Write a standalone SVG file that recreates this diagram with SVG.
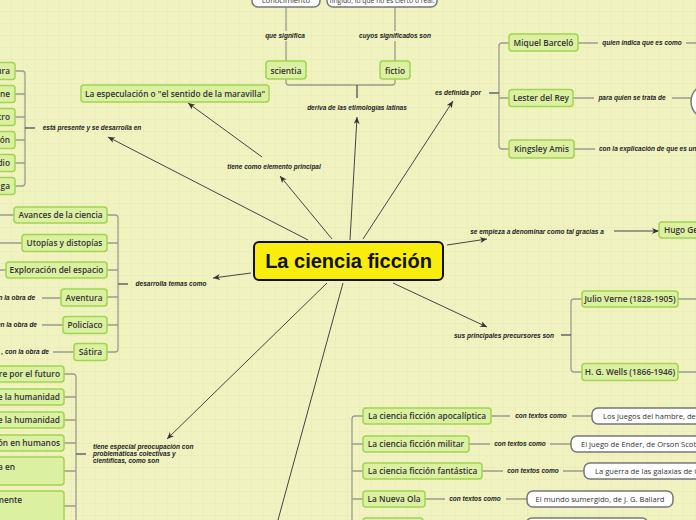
<svg xmlns="http://www.w3.org/2000/svg" width="696" height="520" viewBox="0 0 696 520">
<defs>
<pattern id="grid" width="12" height="12" patternUnits="userSpaceOnUse">
<path d="M12,0 V12 M0,12 H12" fill="none" stroke="#e2e6ad" stroke-width="0.7"/>
</pattern>
<marker id="arr" markerWidth="8" markerHeight="8" refX="7" refY="3" orient="auto" markerUnits="userSpaceOnUse">
<path d="M0,0 L7,3 L0,6 L2,3 z" fill="#333"/>
</marker>
<style>
.g rect{fill:#dcf0a2;stroke:#a2d352;stroke-width:1.5}
.w rect{fill:#fff;stroke:#777;stroke-width:1.5}
.g text{font-family:"Open Sans","DejaVu Sans",sans-serif;font-size:8.3px;font-weight:600;fill:#333}
.w text{font-family:"Open Sans","DejaVu Sans",sans-serif;font-size:7.6px;fill:#333}
.lab{font-family:"Liberation Sans",Arial,sans-serif;font-size:6.5px;font-weight:bold;font-style:italic;fill:#222}
.tree{fill:none;stroke:#9c9c8c;stroke-width:1.3}
.stub{fill:none;stroke:#666;stroke-width:1.5}
.arrow{fill:none;stroke:#444;stroke-width:1;marker-end:url(#arr)}
.c{text-anchor:middle}
.e{text-anchor:end}
</style>
</defs>
<rect width="696" height="520" fill="#f0f3c0"/>
<rect width="696" height="520" fill="url(#grid)"/>

<g id="connectors">
<path class="arrow" d="M350,240 L357,117"/>
<path class="arrow" d="M332,239 L280,176"/>
<path class="arrow" d="M262,157 L188,103"/>
<path class="arrow" d="M308,240 L108,137"/>
<path class="arrow" d="M251,273 L213,278"/>
<path class="arrow" d="M327,283 L167,439"/>
<path class="arrow" d="M363,239 L453,101"/>
<path class="arrow" d="M447,245 L487,239"/>
<path class="arrow" d="M614,231 L659,231"/>
<path class="arrow" d="M393,283 L487,327"/>
<path fill="none" stroke="#444" stroke-width="1" d="M343,283 L278,520"/>
<path class="tree" d="M286,7 V31 M286,41 V61 M395,7 V31 M395,41 V61"/>
<path class="tree" d="M286,79 V82 Q286,85 289,85 H392 Q395,85 395,82 V79"/>
<path class="stub" d="M357,85 V98"/>
<path class="tree" d="M15,71 H22 Q25,71 25,74 V183 Q25,186 22,186 H15 M15,94 H25 M15,117 H25 M15,140 H25 M15,163 H25"/>
<path class="stub" d="M35,128 H25"/>
<path class="tree" d="M107,215 H115 Q118,215 118,218 V349 Q118,352 115,352 H107 M107,243 H118 M107,270 H118 M107,297 H118 M107,325 H118"/>
<path class="stub" d="M128,284 H118"/>
<path class="tree" d="M0,215 H14 M0,243 H22 M0,270 H6 M42,298 H61 M42,325 H63 M53,352 H74"/>
<path class="tree" d="M64,374 H73 Q76,374 76,377 V520 M64,397 H76 M64,420 H76 M64,443 H76 M64,471 H76 M64,506 H76"/>
<path class="stub" d="M86,454 H76"/>
<path class="tree" d="M509,43 H502 Q499,43 499,46 V146 Q499,149 502,149 H509 M499,98 H509"/>
<path class="stub" d="M489,93 H499"/>
<path class="tree" d="M578,43 H598 M686,43 H696 M573,98 H594 M672,98 H691 M574,149 H595"/>
<path class="tree" d="M582,299 H574 Q571,299 571,302 V369 Q571,372 574,372 H582"/>
<path class="stub" d="M561,335 H571"/>
<path class="tree" d="M678,299 H696 M678,372 H696"/>
<path class="tree" d="M363,416 H355 Q352,416 352,419 V520 M352,444 H363 M352,471 H363 M352,499 H363 M352,526 H363"/>
<path class="tree" d="M491,416 H510 M572,416 H592 M469,444 H490 M550,444 H571 M482,471 H503 M563,471 H584 M425,499 H445 M506,499 H527"/>
</g>

<g id="labels">
<text class="lab c" x="285" y="38">que significa</text>
<text class="lab c" x="395" y="38">cuyos significados son</text>
<text class="lab c" x="357" y="110">deriva de las etimologías latinas</text>
<text class="lab c" x="274" y="169">tiene como elemento principal</text>
<text class="lab c" x="92" y="130">está presente y se desarrolla en</text>
<text class="lab c" x="171" y="286">desarrolla temas como</text>
<text class="lab" x="93" y="449">tiene especial preocupación con</text>
<text class="lab" x="93" y="456">problemáticas colectivas y</text>
<text class="lab" x="93" y="463">científicas, como son</text>
<text class="lab c" x="458" y="95">es definida por</text>
<text class="lab c" x="642" y="45">quien indica que es como</text>
<text class="lab c" x="632" y="100">para quien se trata de</text>
<text class="lab" x="599" y="151">con la explicación de que es un</text>
<text class="lab c" x="537" y="234">se empieza a denominar como tal gracias a</text>
<text class="lab c" x="504" y="338">sus principales precursores son</text>
<text class="lab c" x="541" y="418">con textos como</text>
<text class="lab c" x="520" y="446">con textos como</text>
<text class="lab c" x="533" y="473">con textos como</text>
<text class="lab c" x="475" y="501">con textos como</text>
<text class="lab e" x="35" y="300">n la obra de</text>
<text class="lab e" x="37" y="327">en la obra de</text>
<text class="lab e" x="49" y="354">, con la obra de</text>
</g>

<g id="central">
<rect x="254" y="242" width="189" height="38" rx="5" fill="#f8ed0c" stroke="#111" stroke-width="2"/>
<text x="348.5" y="268" text-anchor="middle" font-family="'Liberation Sans',Arial,sans-serif" font-size="20" font-weight="bold" fill="#111">La ciencia ficción</text>
</g>

<g id="conocimiento" class="w"><rect x="252" y="-12" width="68" height="19" rx="6"/><text class="c" x="286" y="3">conocimiento</text></g>
<g id="fingido" class="w"><rect x="327" y="-12" width="110" height="19" rx="6"/><text class="c" x="382" y="3" style="font-size:6.8px">fingido, lo que no es cierto o real.</text></g>
<g id="scientia" class="g"><rect x="266" y="61" width="40" height="18" rx="3"/><text class="c" x="286" y="73.5">scientia</text></g>
<g id="fictio" class="g"><rect x="380" y="61" width="30" height="18" rx="3"/><text class="c" x="395" y="73.5">fictio</text></g>
<g id="especulacion" class="g"><rect x="81" y="85" width="188" height="17" rx="3"/><text class="c" x="175" y="96.5">La especulación o "el sentido de la maravilla"</text></g>

<g id="lit" class="g"><rect x="-30" y="62.5" width="45" height="17" rx="3"/><text class="e" x="10" y="74">ura</text></g>
<g id="cine" class="g"><rect x="-30" y="85.5" width="45" height="17" rx="3"/><text class="e" x="10" y="97">ne</text></g>
<g id="teatro" class="g"><rect x="-30" y="108.5" width="45" height="17" rx="3"/><text class="e" x="10" y="120">tro</text></g>
<g id="tele" class="g"><rect x="-30" y="131.5" width="45" height="17" rx="3"/><text class="e" x="10" y="143">ón</text></g>
<g id="radio" class="g"><rect x="-30" y="154.5" width="45" height="17" rx="3"/><text class="e" x="10" y="166">dio</text></g>
<g id="manga" class="g"><rect x="-30" y="177.5" width="45" height="17" rx="3"/><text class="e" x="10" y="189">ga</text></g>

<g id="avances" class="g"><rect x="14" y="207" width="93" height="16" rx="3"/><text class="c" x="60.5" y="218">Avances de la ciencia</text></g>
<g id="utopias" class="g"><rect x="22" y="234.5" width="85" height="17" rx="3"/><text class="c" x="64.5" y="246">Utopías y distopías</text></g>
<g id="exploracion" class="g"><rect x="6" y="262" width="101" height="16" rx="3"/><text class="c" x="56.5" y="273">Exploración del espacio</text></g>
<g id="aventura" class="g"><rect x="61" y="289" width="46" height="17" rx="3"/><text class="c" x="84" y="300.5">Aventura</text></g>
<g id="policiaco" class="g"><rect x="63" y="316.5" width="44" height="17" rx="3"/><text class="c" x="85" y="328">Policíaco</text></g>
<g id="satira" class="g"><rect x="74" y="343.5" width="33" height="17" rx="3"/><text class="c" x="90.5" y="355">Sátira</text></g>

<g id="p1" class="g"><rect x="-30" y="366" width="94" height="16" rx="3"/><text class="e" x="60" y="377">re por el futuro</text></g>
<g id="p2" class="g"><rect x="-30" y="389" width="94" height="16" rx="3"/><text class="e" x="60" y="400">e la humanidad</text></g>
<g id="p3" class="g"><rect x="-30" y="412" width="94" height="16" rx="3"/><text class="e" x="60" y="423">e la humanidad</text></g>
<g id="p4" class="g"><rect x="-30" y="435" width="94" height="16" rx="3"/><text class="e" x="60" y="446">ón en humanos</text></g>
<g id="p5" class="g"><rect x="-30" y="457" width="94" height="28" rx="3"/><text class="e" x="15" y="470">a en</text></g>
<g id="p6" class="g"><rect x="-30" y="491" width="94" height="36" rx="3"/><text class="e" x="22" y="503">mente</text></g>

<g id="barcelo" class="g"><rect x="509" y="34" width="69" height="17" rx="3"/><text class="c" x="543.5" y="45.5">Miquel Barceló</text></g>
<g id="lester" class="g"><rect x="509" y="89.5" width="64" height="17" rx="3"/><text class="c" x="541" y="101">Lester del Rey</text></g>
<g id="amis" class="g"><rect x="509" y="140" width="65" height="18" rx="3"/><text class="c" x="541.5" y="152">Kingsley Amis</text></g>
<g id="circle" class="w"><ellipse cx="711" cy="101.5" rx="20" ry="18.5" fill="#fff" stroke="#777" stroke-width="1.5"/></g>
<g id="hugo" class="g"><rect x="659" y="222" width="60" height="16" rx="3"/><text x="664" y="233">Hugo Ge</text></g>
<g id="verne" class="g"><rect x="582" y="291" width="96" height="16" rx="3"/><text class="c" x="630" y="302">Julio Verne (1828-1905)</text></g>
<g id="wells" class="g"><rect x="582" y="363.5" width="96" height="17" rx="3"/><text class="c" x="630" y="375">H. G. Wells (1866-1946)</text></g>

<g id="apocaliptica" class="g"><rect x="363" y="408" width="128" height="16" rx="3"/><text class="c" x="427" y="419">La ciencia ficción apocalíptica</text></g>
<g id="militar" class="g"><rect x="363" y="436" width="106" height="16" rx="3"/><text class="c" x="416" y="447">La ciencia ficción militar</text></g>
<g id="fantastica" class="g"><rect x="363" y="463" width="119" height="16" rx="3"/><text class="c" x="422.5" y="474">La ciencia ficción fantástica</text></g>
<g id="nuevaola" class="g"><rect x="363" y="491" width="62" height="16" rx="3"/><text class="c" x="394" y="502">La Nueva Ola</text></g>
<g id="g5" class="g"><rect x="363" y="518" width="60" height="16" rx="3"/></g>

<g id="hambre" class="w"><rect x="592" y="408" width="130" height="16" rx="6"/><text x="603" y="418.5">Los juegos del hambre, de</text></g>
<g id="ender" class="w"><rect x="571" y="436" width="150" height="16" rx="6"/><text x="581" y="446.5">El juego de Ender, de Orson Scott</text></g>
<g id="galaxias" class="w"><rect x="584" y="463" width="140" height="16" rx="6"/><text x="595" y="473.5">La guerra de las galaxias de G</text></g>
<g id="sumergido" class="w"><rect x="527" y="491" width="146" height="16" rx="6"/><text class="c" x="600" y="501.5">El mundo sumergido, de J. G. Ballard</text></g>
<g id="w5" class="w"><rect x="526" y="518" width="122" height="16" rx="6"/></g>
</svg>
